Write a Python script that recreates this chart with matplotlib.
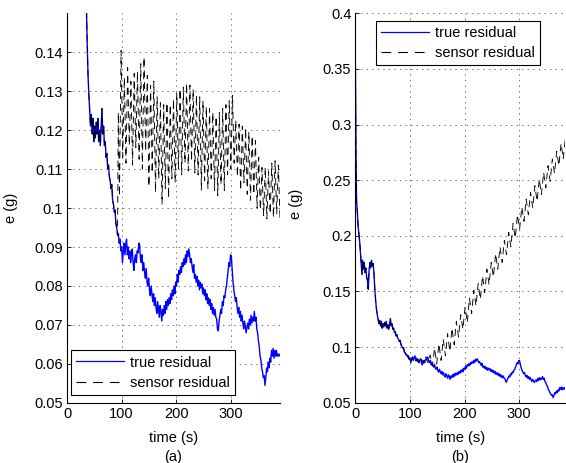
import numpy as np
import matplotlib
matplotlib.use("Agg")
import matplotlib.pyplot as plt
from matplotlib.ticker import FormatStrFormatter

plt.rcParams['font.family'] = ['Liberation Sans', 'DejaVu Sans']
plt.rcParams['font.size'] = 10
plt.rcParams['lines.scale_dashes'] = False

# true residual (same run in both panels): (time s, e g)
true_pts = [
    (0, 0.352), (0.5, 0.31), (1, 0.272), (1.5, 0.248), (2, 0.232), (3.5, 0.221),
    (5, 0.208), (6.5, 0.201), (8, 0.193), (9.5, 0.183), (11, 0.172), (12, 0.165),
    (13, 0.178), (14.5, 0.170), (16, 0.176), (17.5, 0.167), (19, 0.171), (20.5, 0.163),
    (22, 0.160), (23.5, 0.152), (25, 0.169), (26.5, 0.176), (28, 0.171), (29.5, 0.178),
    (31, 0.173), (32.5, 0.175), (34, 0.166), (35.5, 0.152), (37, 0.142), (38.5, 0.134),
    (40, 0.129), (41.5, 0.125), (43, 0.121), (44.5, 0.124), (46, 0.119), (47.5, 0.123),
    (49, 0.117), (50.5, 0.121), (52, 0.118), (53.5, 0.122), (55, 0.119), (56.5, 0.123),
    (58, 0.117), (59.5, 0.120), (61, 0.116), (62.5, 0.121), (64, 0.1255), (65.5, 0.119),
    (67, 0.121), (68.5, 0.116), (70, 0.117), (71.5, 0.113), (73, 0.114), (74.5, 0.110),
    (76, 0.111), (77.5, 0.108), (79, 0.107), (80.5, 0.105), (82, 0.106), (83.5, 0.102),
    (85, 0.101), (86.5, 0.099), (88, 0.0995), (89.5, 0.096), (91, 0.095), (92.5, 0.093),
    (94, 0.0935), (95.5, 0.091), (97, 0.092), (98.5, 0.089), (100, 0.090), (101.5, 0.086),
    (103, 0.089), (104.5, 0.091), (106, 0.088), (107.5, 0.0905), (109, 0.092), (110.5, 0.088),
    (112, 0.090), (113.5, 0.087), (115, 0.089), (116.5, 0.086), (118, 0.088), (119.5, 0.0895),
    (121, 0.086), (122.5, 0.084), (124, 0.087), (125.5, 0.088), (127, 0.086), (128.5, 0.089),
    (130, 0.0885), (131.5, 0.091), (133, 0.0905), (134.5, 0.087), (136, 0.086), (137.5, 0.088),
    (139, 0.084), (140.5, 0.086), (142, 0.0835), (143.5, 0.082), (145, 0.0845), (146.5, 0.081),
    (148, 0.080), (149.5, 0.082), (151, 0.079), (152.5, 0.0775), (154, 0.080), (155.5, 0.078),
    (157, 0.076), (158.5, 0.078), (160, 0.075), (161.5, 0.077), (163, 0.0745), (164.5, 0.073),
    (166, 0.076), (167.5, 0.074), (169, 0.072), (170.5, 0.075), (172, 0.0735), (173.5, 0.071),
    (175, 0.074), (176.5, 0.0725), (178, 0.075), (179.5, 0.073), (181, 0.076), (182.5, 0.074),
    (184, 0.0765), (185.5, 0.075), (187, 0.077), (188.5, 0.0755), (190, 0.078), (191.5, 0.0765),
    (193, 0.079), (194.5, 0.0775), (196, 0.080), (197.5, 0.078), (199, 0.081), (200.5, 0.080),
    (202, 0.083), (203.5, 0.081), (205, 0.084), (206.5, 0.083), (208, 0.085), (209.5, 0.0835),
    (211, 0.086), (212.5, 0.085), (214, 0.087), (215.5, 0.0855), (217, 0.088), (218.5, 0.086),
    (220, 0.089), (221.5, 0.0875), (223, 0.0895), (224.5, 0.088), (226, 0.086), (227.5, 0.087),
    (229, 0.085), (230.5, 0.0835), (232, 0.0855), (233.5, 0.082), (235, 0.083), (236.5, 0.081),
    (238, 0.0825), (239.5, 0.080), (241, 0.0815), (242.5, 0.079), (244, 0.081), (245.5, 0.0795),
    (247, 0.0805), (248.5, 0.078), (250, 0.0795), (251.5, 0.0775), (253, 0.079), (254.5, 0.0765),
    (256, 0.078), (257.5, 0.0755), (259, 0.077), (260.5, 0.075), (262, 0.0765), (263.5, 0.074),
    (265, 0.0755), (266.5, 0.073), (268, 0.0745), (269.5, 0.0725), (271, 0.074), (272.5, 0.072),
    (274, 0.0715), (275.5, 0.069), (277, 0.0685), (278.5, 0.071), (280, 0.0725), (281.5, 0.074),
    (283, 0.073), (284.5, 0.076), (286, 0.075), (287.5, 0.0775), (289, 0.077), (290.5, 0.079),
    (292, 0.080), (293.5, 0.082), (295, 0.084), (296.5, 0.086), (298, 0.085), (299.5, 0.088),
    (301, 0.0875), (302.5, 0.084), (304, 0.081), (305.5, 0.079), (307, 0.0775), (308.5, 0.076),
    (310, 0.077), (311.5, 0.0745), (313, 0.073), (314.5, 0.0745), (316, 0.072), (317.5, 0.0735),
    (319, 0.071), (320.5, 0.0725), (322, 0.0705), (323.5, 0.069), (325, 0.071), (326.5, 0.0695),
    (328, 0.068), (329.5, 0.0695), (331, 0.0705), (332.5, 0.069), (334, 0.0715), (335.5, 0.070),
    (337, 0.0725), (338.5, 0.0705), (340, 0.072), (341.5, 0.071), (343, 0.0735), (344.5, 0.071),
    (346, 0.072), (347.5, 0.069), (349, 0.068), (350.5, 0.066), (352, 0.0645), (353.5, 0.062),
    (355, 0.061), (356.5, 0.059), (358, 0.058), (359.5, 0.0565), (361, 0.057), (362.5, 0.0545),
    (364, 0.0565), (365.5, 0.059), (367, 0.058), (368.5, 0.0605), (370, 0.059), (371.5, 0.0615),
    (373, 0.0605), (374.5, 0.0635), (376, 0.062), (377.5, 0.064), (379, 0.0615), (380.5, 0.0635),
    (382, 0.062), (383.5, 0.0635), (385, 0.062), (386.5, 0.0625), (388, 0.062), (389.5, 0.0625),
]

# sensor residual, run (a): after the split at ~92 s
sens_a_pts = [
    (94, 0.1245), (96, 0.103), (99, 0.1404), (102, 0.113), (105, 0.1335), (108, 0.1115),
    (111, 0.136), (114, 0.116), (117, 0.1325), (120, 0.111), (123, 0.1345), (126, 0.1155),
    (129, 0.135), (132, 0.1125), (135, 0.137), (138, 0.110), (141, 0.1387), (144, 0.1145),
    (147, 0.134), (150, 0.1055), (153, 0.1315), (156, 0.109), (159, 0.1325), (162, 0.104),
    (165, 0.1285), (168, 0.1075), (171, 0.127), (174, 0.101), (177, 0.1265), (180, 0.105),
    (183, 0.127), (186, 0.1025), (189, 0.1265), (192, 0.1075), (195, 0.128), (198, 0.1065),
    (201, 0.1295), (204, 0.110), (207, 0.1305), (210, 0.1085), (213, 0.131), (216, 0.1115),
    (219, 0.132), (222, 0.1095), (225, 0.1315), (228, 0.112), (231, 0.1305), (234, 0.109),
    (237, 0.129), (240, 0.1085), (243, 0.1285), (246, 0.1045), (249, 0.1275), (252, 0.107),
    (255, 0.126), (258, 0.105), (261, 0.1255), (264, 0.1075), (267, 0.1245), (270, 0.1045),
    (273, 0.1235), (276, 0.1032), (279, 0.1245), (282, 0.106), (285, 0.1255), (288, 0.1045),
    (291, 0.1265), (294, 0.1085), (297, 0.1275), (300, 0.110), (303, 0.1289), (306, 0.1115),
    (309, 0.1225), (312, 0.108), (315, 0.1215), (318, 0.1045), (321, 0.121), (324, 0.1065),
    (327, 0.1205), (330, 0.1035), (333, 0.1195), (336, 0.102), (339, 0.1185), (342, 0.1035),
    (345, 0.1173), (348, 0.100), (351, 0.113), (354, 0.0995), (357, 0.1104), (360, 0.098),
    (363, 0.1105), (366, 0.0972), (369, 0.1095), (372, 0.0985), (375, 0.1115), (378, 0.0975),
    (381, 0.1121), (384, 0.0985), (387, 0.111), (390, 0.0976), (393, 0.1085),
]
split_a = 92.5

# sensor residual, run (b): after the split at ~105 s
sens_b_pts = [
    (105, 0.089), (109, 0.086), (113, 0.0895), (117, 0.085), (121, 0.089), (125, 0.0855),
    (129, 0.091), (133, 0.086), (137, 0.093), (141, 0.083), (145, 0.099), (149, 0.085),
    (153, 0.103), (157, 0.088), (161, 0.107), (165, 0.092), (169, 0.112), (173, 0.096),
    (177, 0.117), (181, 0.102), (185, 0.123), (189, 0.109), (193, 0.129), (197, 0.116),
    (201, 0.136), (205, 0.122), (209, 0.144), (213, 0.130), (217, 0.151), (221, 0.137),
    (225, 0.157), (229, 0.143), (233, 0.164), (237, 0.149), (241, 0.170), (245, 0.156),
    (249, 0.176), (253, 0.163), (257, 0.184), (261, 0.170), (265, 0.190), (269, 0.176),
    (273, 0.196), (277, 0.183), (281, 0.203), (285, 0.190), (289, 0.211), (293, 0.198),
    (297, 0.219), (301, 0.206), (305, 0.226), (309, 0.213), (313, 0.233), (317, 0.219),
    (321, 0.239), (325, 0.225), (329, 0.245), (333, 0.231), (337, 0.251), (341, 0.237),
    (345, 0.257), (349, 0.243), (353, 0.263), (357, 0.249), (361, 0.269), (365, 0.256),
    (369, 0.276), (373, 0.263), (377, 0.283), (381, 0.269), (385, 0.289),
]
split_b = 104.5

xticks = [0, 100, 200, 300]
yticks_a = [0.05, 0.06, 0.07, 0.08, 0.09, 0.10, 0.11, 0.12, 0.13, 0.14]
yticks_b = [0.05, 0.10, 0.15, 0.20, 0.25, 0.30, 0.35, 0.40]

t_true, e_true = map(np.array, zip(*true_pts))


def sensor_series(pts, split):
    ts, es = map(np.array, zip(*pts))
    keep = t_true <= split
    return np.concatenate([t_true[keep], ts]), np.concatenate([e_true[keep], es])


def style_axes(ax, xmax, ylim, yticks, label):
    ax.set_xlim(0, xmax)
    ax.set_ylim(*ylim)
    ax.set_xticks(xticks)
    ax.set_yticks(yticks)
    ax.yaxis.set_major_formatter(FormatStrFormatter('%g'))
    for s in ['top', 'right']:
        ax.spines[s].set_visible(False)
    for s in ['left', 'bottom']:
        ax.spines[s].set_linewidth(0.8)
    ax.tick_params(direction='in', length=3, width=0.6, labelsize=10.5, pad=3)
    ax.grid(True, color='0.35', linestyle=(0, (1, 3)), linewidth=0.6)
    ax.set_axisbelow(True)
    ax.set_xlabel('time (s)\n' + label, fontsize=10.5, linespacing=1.45, labelpad=7)
    ax.set_ylabel('e (g)', fontsize=10.5)


fig = plt.figure(figsize=(5.66, 4.63), dpi=100)
ax1 = fig.add_axes([0.1184, 0.1296, 0.3763, 0.8423])
ax2 = fig.add_axes([0.628, 0.1303, 0.371, 0.8410])

for ax, pts, split in [(ax1, sens_a_pts, split_a), (ax2, sens_b_pts, split_b)]:
    ts, es = sensor_series(pts, split)
    ax.plot(t_true, e_true, color='#0000ff', lw=1.0, label='true residual')
    ax.plot(ts, es, color='k', lw=0.65, dashes=(5, 3.5), label='sensor residual')

style_axes(ax1, 390, (0.05, 0.15), yticks_a, '(a)')
style_axes(ax2, 385, (0.05, 0.40), yticks_b, '(b)')
ax1.yaxis.set_label_coords(-0.23, 0.5)
ax2.yaxis.set_label_coords(-0.25, 0.51)

leg_kw = dict(fontsize=10.5, frameon=True, fancybox=False, framealpha=1,
              edgecolor='k', handlelength=3.3, borderpad=0.35, labelspacing=0.45,
              handletextpad=0.4, borderaxespad=0)
l1 = ax1.legend(loc='lower left', bbox_to_anchor=(0.017, 0.02), **leg_kw)
l2 = ax2.legend(loc='upper left', bbox_to_anchor=(0.098, 0.981), **leg_kw)
for lg in (l1, l2):
    lg.get_frame().set_linewidth(0.8)
    lg.get_lines()[0].set_linewidth(0.9)
    lg.get_lines()[1].set_linewidth(0.8)
    lg.get_lines()[1].set_dashes((7, 5))

fig.savefig('out.png', dpi=100)
